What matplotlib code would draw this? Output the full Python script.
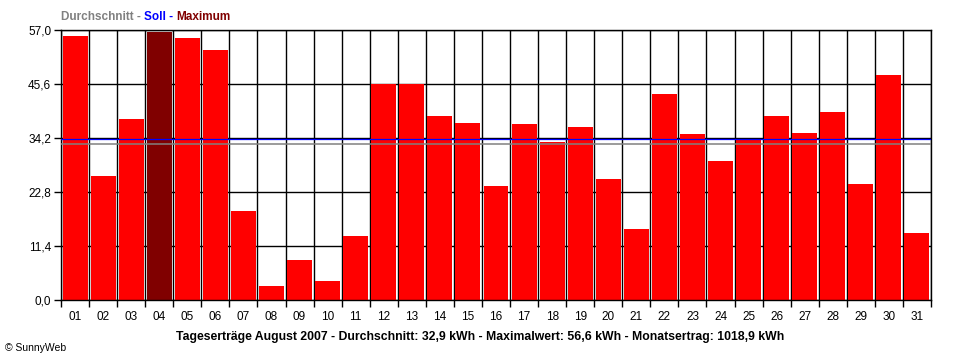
import matplotlib
matplotlib.use("Agg")
import matplotlib.pyplot as plt
import numpy as np

days = [f"{d:02d}" for d in range(1, 32)]
values = [55.7, 26.2, 38.2, 56.6, 55.3, 52.8, 18.8, 3.0, 8.4, 4.0, 13.5,
          45.6, 45.6, 38.8, 37.4, 24.1, 37.2, 33.4, 36.5, 25.5, 15.0, 43.5,
          35.0, 29.3, 34.0, 38.8, 35.3, 39.7, 24.5, 47.5, 14.1]
average = 32.9
target = 34.0
y_ticks = [0.0, 11.4, 22.8, 34.2, 45.6, 57.0]
y_labels = ["0,0", "11,4", "22,8", "34,2", "45,6", "57,0"]

plt.rcParams['font.family'] = ['Liberation Sans', 'DejaVu Sans']

W, H = 960, 360
fig = plt.figure(figsize=(W / 100, H / 100), dpi=100)
ax = fig.add_axes([61 / W, (H - 300) / H, 870 / W, 270 / H])

n = len(values)
x = np.arange(n)
imax = int(np.argmax(values))
colors = ['#ff0000'] * n
colors[imax] = '#800000'

# grid
for b in np.arange(n + 1) - 0.5:
    ax.axvline(b, color='black', lw=1.0, zorder=1)
for t in y_ticks:
    ax.axhline(t, color='black', lw=1.0, zorder=1)

ax.bar(x, values, width=0.89, color=colors, zorder=2)
ax.axhline(target, color='#0000ff', lw=0.9, zorder=3)
ax.axhline(average, color='#808080', lw=1.1, zorder=3)

ax.set_xlim(-0.5, n - 0.5)
ax.set_ylim(0, 57.0)
ax.set_yticks(y_ticks)
ax.set_yticklabels(y_labels, fontsize=8.5)
ax.set_xticks(np.arange(n + 1) - 0.5)
ax.set_xticklabels([])
ax.set_xticks(x, minor=True)
ax.set_xticklabels(days, minor=True, fontsize=8.5)
ax.tick_params(axis='x', which='major', length=5, width=1, direction='out')
ax.tick_params(axis='x', which='minor', length=0, pad=8)
ax.tick_params(axis='y', length=5, width=1, direction='out', pad=2)
for s in ax.spines.values():
    s.set_linewidth(1.0)

# multi-colored title
parts = [("Durchschnitt - ", '#808080'), ("Soll - ", '#0000ff'), ("Maximum", '#800000')]
fig.canvas.draw()
r = fig.canvas.get_renderer()
xpos = 61 / W
for txt, c in parts:
    t = fig.text(xpos, 1 - 17 / H, txt, color=c, fontsize=8.5, fontweight='bold', va='center', ha='left')
    bb = t.get_window_extent(renderer=r)
    xpos += bb.width / W

fig.text(0.5, 1 - 337 / H,
         "Tageserträge August 2007 - Durchschnitt: 32,9 kWh - Maximalwert: 56,6 kWh - Monatsertrag: 1018,9 kWh",
         fontsize=8.8, fontweight='bold', ha='center', va='center')
fig.text(5 / W, 1 - 348 / H, "© SunnyWeb", fontsize=7.5, ha='left', va='center')

fig.savefig("out.png", dpi=100)
